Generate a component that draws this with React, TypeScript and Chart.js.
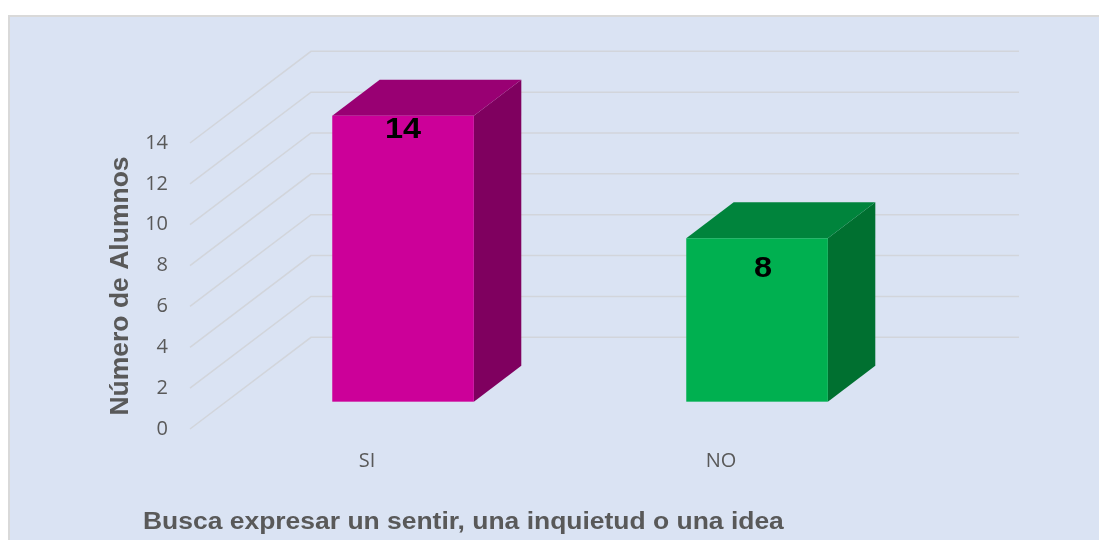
import React, { useEffect, useRef } from "react";
import { Chart, registerables } from "chart.js";

Chart.register(...registerables);

// ---- data ----
const categories = ["SI", "NO"];
const alumnos = [14, 8];
const yMin = 0;
const yMax = 14;
const yStep = 2;
const yAxisTitle = "Número de Alumnos";
const xAxisTitle = "Busca expresar un sentir, una inquietud o una idea";

// ---- styles ----
const frontColors = ["#CC0099", "#00B050"];
const topColors = ["#990073", "#00843C"];
const sideColors = ["#7F005F", "#007030"];
const TEXT_GRAY = "#595959";
const SANS = "'Liberation Sans', Arial, sans-serif";
const TICK_FONT = "'Open Sans', sans-serif";
const BG = "#DAE3F3";
const GRID = "#D2D5DB";

const DEPTH_X = 121;
const DEPTH_Y = 91.7;
const BAR_FRONT = 0.298;
const BAR_BACK = 0.69;
const LABEL_DX = [0, 6];
const LABEL_BASE = [22.6, 39];
const TEXT_STRETCH = 1.15;

const threeD = {
  id: "threeD",
  beforeDraw(chart: any) {
    const { ctx } = chart;
    ctx.save();
    ctx.fillStyle = BG;
    ctx.fillRect(8, 15, chart.width, chart.height);
    ctx.strokeStyle = "#D9D9D9";
    ctx.lineWidth = 2;
    ctx.strokeRect(9, 16, chart.width + 20, chart.height + 20);
    ctx.restore();
  },
  beforeDatasetsDraw(chart: any) {
    const { ctx, chartArea, scales } = chart;
    const ys = scales.y;
    ctx.save();
    ctx.strokeStyle = GRID;
    ctx.lineWidth = 1.5;
    ys.ticks.forEach((t: any) => {
      const py = ys.getPixelForValue(t.value);
      ctx.beginPath();
      ctx.moveTo(chartArea.left, py);
      ctx.lineTo(chartArea.left + DEPTH_X, py - DEPTH_Y);
      ctx.lineTo(chartArea.right + DEPTH_X, py - DEPTH_Y);
      ctx.stroke();
    });
    ctx.restore();
  },
  afterDatasetsDraw(chart: any) {
    const { ctx } = chart;
    const meta = chart.getDatasetMeta(0);
    const data = chart.data.datasets[0].data;
    const fx = BAR_FRONT * DEPTH_X;
    const fy = BAR_FRONT * DEPTH_Y;
    const dx = (BAR_BACK - BAR_FRONT) * DEPTH_X;
    const dy = (BAR_BACK - BAR_FRONT) * DEPTH_Y;
    meta.data.forEach((bar: any, i: number) => {
      const { x, y, base, width } = bar.getProps(["x", "y", "base", "width"], true);
      const l = x - width / 2 + fx;
      const r = x + width / 2 + fx;
      const t = y - fy;
      const b = base - fy;
      ctx.save();
      // side
      ctx.fillStyle = sideColors[i];
      ctx.beginPath();
      ctx.moveTo(r, t);
      ctx.lineTo(r + dx, t - dy);
      ctx.lineTo(r + dx, b - dy);
      ctx.lineTo(r, b);
      ctx.closePath();
      ctx.fill();
      // top
      ctx.fillStyle = topColors[i];
      ctx.beginPath();
      ctx.moveTo(l, t);
      ctx.lineTo(l + dx, t - dy);
      ctx.lineTo(r + dx, t - dy);
      ctx.lineTo(r, t);
      ctx.closePath();
      ctx.fill();
      // front
      ctx.fillStyle = frontColors[i];
      ctx.fillRect(l, t, r - l, b - t);
      // value label
      ctx.fillStyle = "#000000";
      ctx.font = `bold 29px ${SANS}`;
      ctx.textAlign = "center";
      ctx.textBaseline = "alphabetic";
      ctx.translate((l + r) / 2 + LABEL_DX[i], t + LABEL_BASE[i]);
      ctx.scale(1.12, 1);
      ctx.fillText(String(data[i]), 0, 0);
      ctx.restore();
    });
  },
  afterDraw(chart: any) {
    const { ctx } = chart;
    ctx.save();
    ctx.fillStyle = TEXT_GRAY;
    ctx.font = `bold 23px ${SANS}`;
    ctx.textAlign = "left";
    ctx.textBaseline = "alphabetic";
    ctx.translate(143, 528.5);
    ctx.scale(TEXT_STRETCH, 1);
    ctx.fillText(xAxisTitle, 0, 0);
    ctx.restore();
  },
};

export default function App() {
  const ref = useRef<HTMLCanvasElement | null>(null);
  useEffect(() => {
    if (!ref.current) return;
    const chart = new Chart(ref.current, {
      type: "bar",
      data: {
        labels: categories,
        datasets: [
          {
            label: yAxisTitle,
            data: alumnos,
            backgroundColor: "rgba(0,0,0,0)",
            borderWidth: 0,
            barPercentage: 1,
            categoryPercentage: 0.4,
          },
        ],
      },
      options: {
        responsive: false,
        maintainAspectRatio: false,
        animation: false,
        layout: { padding: { left: 0, top: 143, right: 201, bottom: 51 } },
        plugins: {
          legend: { display: false },
          tooltip: { enabled: false },
          title: { display: false },
        },
        scales: {
          x: {
            grid: { display: false, drawTicks: false },
            border: { display: false },
            ticks: {
              color: TEXT_GRAY,
              font: { family: TICK_FONT, size: 20 },
              padding: 20,
            },
            afterFit(scale: any) {
              scale.height = 60;
            },
          },
          y: {
            min: yMin,
            max: yMax,
            grid: { display: false, drawTicks: false },
            border: { display: false },
            ticks: {
              stepSize: yStep,
              color: TEXT_GRAY,
              font: { family: TICK_FONT, size: 20 },
              padding: 22,
            },
            title: {
              display: true,
              text: yAxisTitle,
              color: TEXT_GRAY,
              font: { family: SANS, size: 26.5, weight: "bold" },
              padding: { top: 105.2, bottom: 0 },
            },
            afterFit(scale: any) {
              scale.width = 190;
            },
          },
        },
      },
      plugins: [threeD],
    });
    return () => chart.destroy();
  }, []);
  return (
    <div style={{ position: "fixed", left: 0, top: 0, width: 1099, height: 540, background: "#FFFFFF" }}>
      <canvas ref={ref} width={1099} height={540} style={{ display: "block" }} />
    </div>
  );
}
